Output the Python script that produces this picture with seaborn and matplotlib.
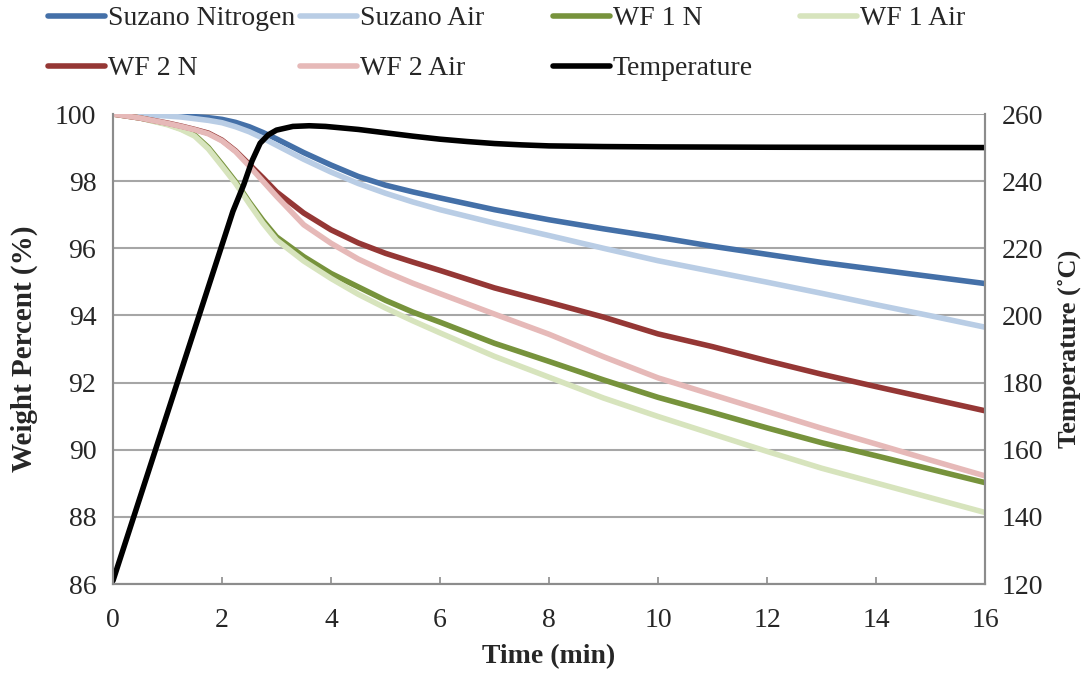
import numpy as np
import pandas as pd
import matplotlib
matplotlib.use("Agg")
import matplotlib.pyplot as plt
import seaborn as sns

time = [0, 0.5, 1, 1.25, 1.5, 1.75, 2, 2.25, 2.5, 2.75, 3, 3.5, 4, 4.5, 5, 5.5, 6, 7, 8, 9, 10, 11, 12, 13, 14, 15, 16]

suzano_n = [100.0, 99.99, 99.97, 99.95, 99.92, 99.89, 99.84, 99.75, 99.62, 99.45, 99.26, 98.85, 98.48, 98.14,
            97.88, 97.68, 97.5, 97.15, 96.85, 96.58, 96.33, 96.06, 95.82, 95.58, 95.37, 95.16, 94.95]
suzano_air = [100.0, 99.98, 99.94, 99.91, 99.86, 99.81, 99.74, 99.62, 99.47, 99.28, 99.07, 98.65, 98.27, 97.93,
              97.64, 97.38, 97.15, 96.75, 96.38, 96.0, 95.63, 95.31, 94.99, 94.66, 94.32, 93.99, 93.65]
wf1_n = [100.0, 99.88, 99.7, 99.56, 99.37, 99.0, 98.5, 97.98, 97.38, 96.83, 96.34, 95.75, 95.25, 94.85,
         94.45, 94.1, 93.8, 93.17, 92.63, 92.08, 91.56, 91.11, 90.65, 90.21, 89.82, 89.42, 89.02]
wf1_air = [100.0, 99.88, 99.68, 99.54, 99.34, 98.96, 98.45, 97.93, 97.33, 96.75, 96.25, 95.62, 95.1, 94.63,
           94.22, 93.84, 93.48, 92.78, 92.16, 91.54, 90.99, 90.47, 89.95, 89.45, 89.01, 88.57, 88.13]
wf2_n = [100.0, 99.88, 99.73, 99.64, 99.54, 99.43, 99.22, 98.9, 98.5, 98.1, 97.68, 97.05, 96.55, 96.16,
         95.85, 95.59, 95.34, 94.82, 94.39, 93.95, 93.45, 93.07, 92.65, 92.25, 91.88, 91.52, 91.16]
wf2_air = [100.0, 99.88, 99.72, 99.63, 99.53, 99.41, 99.2, 98.88, 98.45, 98.0, 97.55, 96.7, 96.15, 95.68,
           95.3, 94.96, 94.65, 94.04, 93.44, 92.77, 92.14, 91.64, 91.14, 90.64, 90.17, 89.69, 89.22]

temp_time = [0, 0.5, 1, 1.5, 2, 2.2, 2.4, 2.55, 2.7, 2.85, 3.0, 3.3, 3.6, 3.9, 4.5, 5, 5.5, 6, 6.5, 7,
             7.5, 8, 9, 10, 12, 16]
temperature = [121, 146, 171, 196, 221, 231, 239, 246, 251.3, 253.8, 255.2, 256.3, 256.5, 256.3, 255.4,
               254.4, 253.4, 252.5, 251.8, 251.2, 250.8, 250.5, 250.3, 250.2, 250.1, 250.0]

series_names = ["Suzano Nitrogen", "Suzano Air", "WF 1 N", "WF 1 Air", "WF 2 N", "WF 2 Air"]
series_values = [suzano_n, suzano_air, wf1_n, wf1_air, wf2_n, wf2_air]
colors = ["#4470A8", "#B9CDE5", "#77933C", "#D7E4BD", "#953735", "#E6B9B8"]

x_ticks = [0, 2, 4, 6, 8, 10, 12, 14, 16]
y_ticks = [86, 88, 90, 92, 94, 96, 98, 100]
t_ticks = [120, 140, 160, 180, 200, 220, 240, 260]

df = pd.DataFrame({
    "Time": np.tile(time, len(series_names)),
    "Weight": np.concatenate(series_values),
    "Series": np.repeat(series_names, len(time)),
})
tdf = pd.DataFrame({"Time": temp_time, "Temperature": temperature})

sns.set_style("white")
FONT = "Liberation Serif"
plt.rcParams["font.family"] = [FONT, "DejaVu Serif"]

fig = plt.figure(figsize=(10.91, 6.73), dpi=100)
ax = fig.add_axes([113 / 1091, 89 / 673, (985 - 113) / 1091, (584 - 114) / 673])
ax2 = ax.twinx()

sns.lineplot(data=df, x="Time", y="Weight", hue="Series", hue_order=series_names,
             palette=colors, linewidth=4, ax=ax, legend=False, estimator=None, sort=False)
sns.lineplot(data=tdf, x="Time", y="Temperature", color="black", linewidth=4, ax=ax2,
             legend=False, estimator=None, sort=False)

grid_c = "#A6A6A6"
for a in (ax, ax2):
    for s in a.spines.values():
        s.set_color("#8C8C8C")
        s.set_linewidth(1.5)
    a.spines["top"].set_visible(False)

ax.set_xlim(0, 16)
ax.set_ylim(86, 100)
ax2.set_ylim(120, 260)
ax.set_xticks(x_ticks)
ax.set_yticks(y_ticks)
ax2.set_yticks(t_ticks)
ax.yaxis.grid(True, color=grid_c, linewidth=1.5)
ax.xaxis.grid(False)
ax2.grid(False)
ax.set_axisbelow(True)

ax.tick_params(axis="x", direction="in", length=5, width=1.2, color="#8C8C8C",
               labelsize=20, pad=17, bottom=True)
ax.tick_params(axis="y", length=0, labelsize=20, pad=12)
ax2.tick_params(axis="y", length=0, labelsize=20, pad=12)

ax.set_xlabel("Time (min)", fontsize=20, fontweight="bold", labelpad=8)
ax.set_ylabel("Weight Percent (%)", fontsize=21, fontweight="bold", labelpad=12)
ax2.set_ylabel("Temperature (˚C)", fontsize=19, fontweight="bold", labelpad=10)

wlines = ax.get_lines()
tline = ax2.get_lines()[0]
handles = {n: l for n, l in zip(series_names, wlines)}
handles["Temperature"] = tline

columns = [["Suzano Nitrogen", "WF 2 N"], ["Suzano Air", "WF 2 Air"],
           ["WF 1 N", "Temperature"], ["WF 1 Air"]]
col_x = [48, 300, 553, 800]
for names, cx in zip(columns, col_x):
    fig.legend([handles[n] for n in names], names, loc="upper left",
               bbox_to_anchor=(cx / 1091, 1 - 6 / 673), frameon=False, borderpad=0,
               borderaxespad=0, handlelength=2.05, handletextpad=0.1, labelspacing=0.88,
               prop={"family": FONT, "size": 20})

fig.savefig("out.png", dpi=100)
